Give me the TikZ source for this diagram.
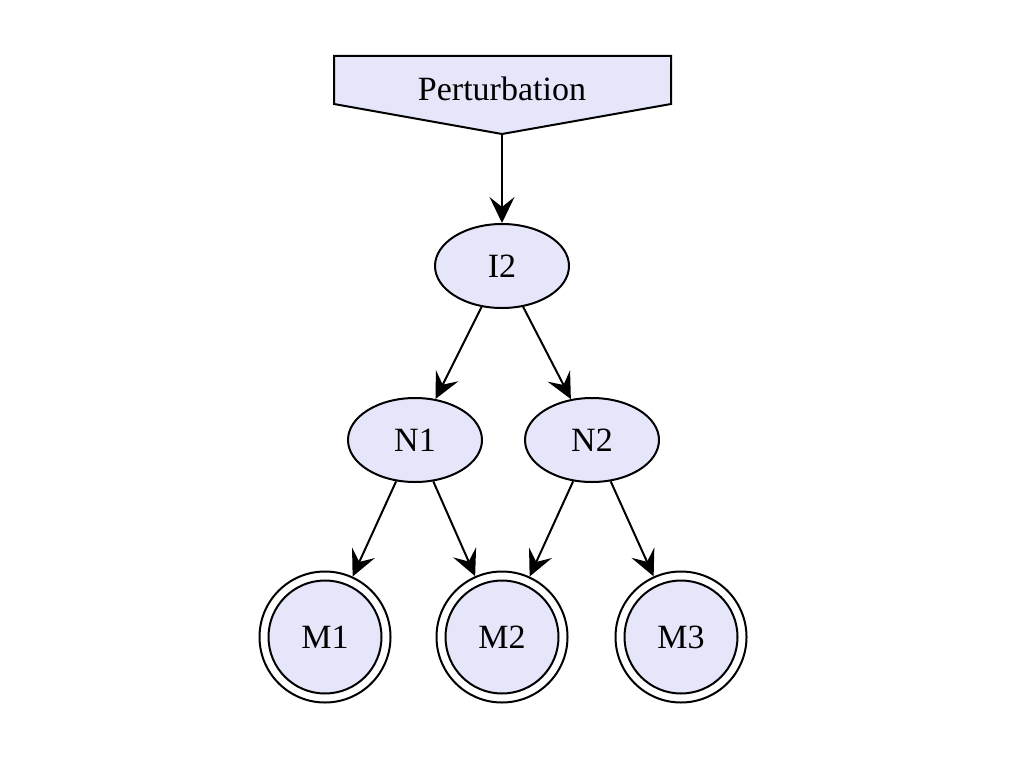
\documentclass[tikz,border=0pt]{standalone}
\usepackage{fontspec}
\setmainfont{Liberation Serif}
\usetikzlibrary{shapes.geometric,arrows.meta}
\definecolor{lav}{HTML}{E6E6FA}
\begin{document}
\begin{tikzpicture}[x=1pt,y=-1pt,
  every node/.style={font=\fontsize{34}{38}\selectfont, inner sep=0pt},
  ell/.style={ellipse, draw, line width=2pt, fill=lav, minimum width=134pt, minimum height=84pt},
  outerc/.style={circle, draw, line width=2pt, fill=white, minimum size=131pt},
  innerc/.style={circle, draw, line width=2pt, fill=lav, minimum size=113pt},
  conn/.style={line width=2pt, -{Stealth[length=26pt,width=25pt,inset=10pt]}}]
\useasboundingbox (0,0) rectangle (1024,768);
% Perturbation shape
\draw[line width=2pt, fill=lav, line join=miter] (334,56) -- (671,56) -- (671,104) -- (502,134) -- (334,104) -- cycle;
\node (P) at (502,89) {Perturbation};
\coordinate (Pbot) at (502,134);
\node[ell] (I2) at (502,266) {I2};
\node[ell] (N1) at (415,440) {N1};
\node[ell] (N2) at (592,440) {N2};
\node[outerc] (M1) at (325,637) {};
\node[innerc] (M1i) at (325,637) {M1};
\node[outerc] (M2) at (502,637) {};
\node[innerc] (M2i) at (502,637) {M2};
\node[outerc] (M3) at (681,637) {};
\node[innerc] (M3i) at (681,637) {M3};
\draw[conn] (Pbot) -- (I2);
\draw[conn] (I2) -- (N1);
\draw[conn] (I2) -- (N2);
\draw[conn] (N1) -- (M1);
\draw[conn] (N1) -- (M2);
\draw[conn] (N2) -- (M2);
\draw[conn] (N2) -- (M3);
\end{tikzpicture}
\end{document}
